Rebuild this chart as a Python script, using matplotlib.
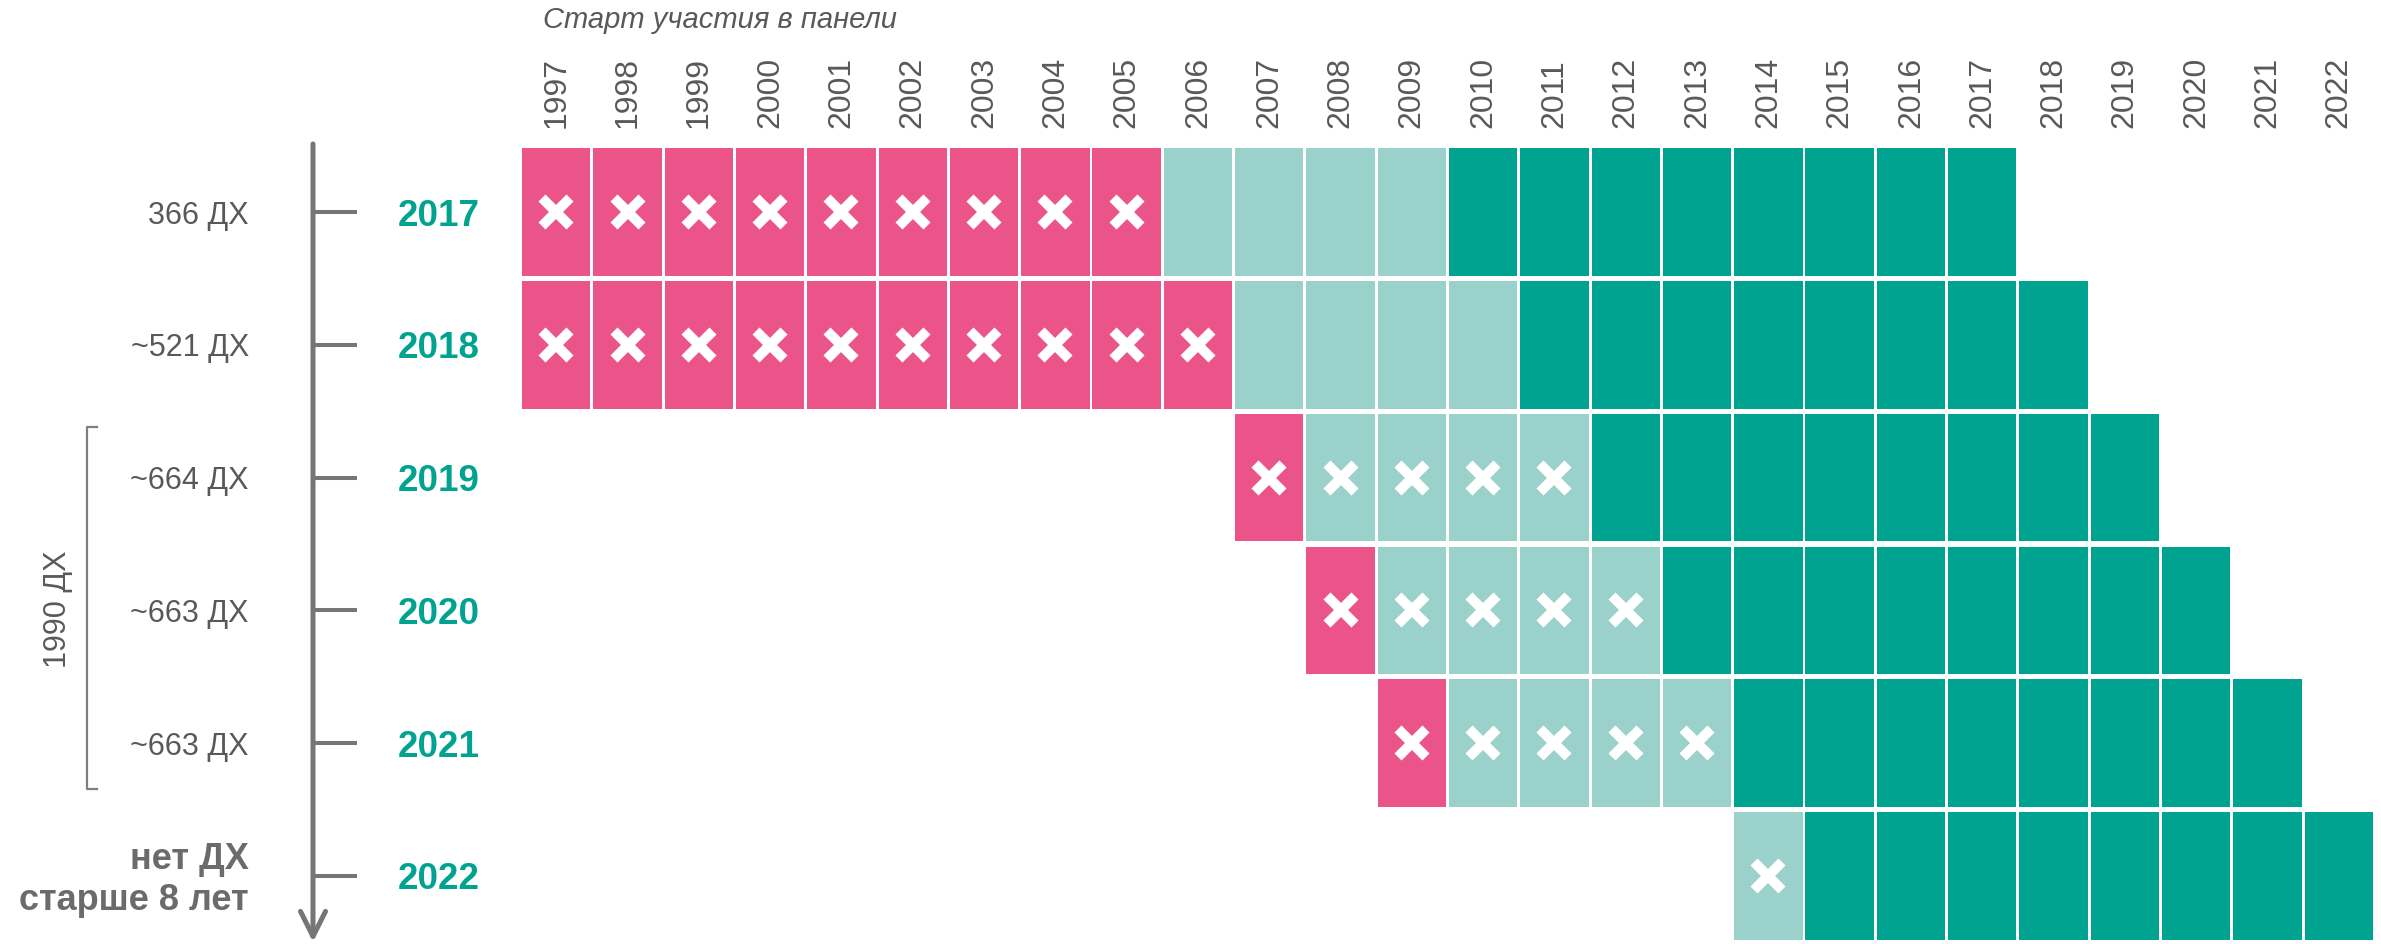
import matplotlib
matplotlib.use('Agg')
import matplotlib.pyplot as plt
from matplotlib.patches import FancyArrowPatch
from matplotlib.lines import Line2D
from matplotlib.transforms import blended_transform_factory

plt.rcParams['font.family'] = ['Liberation Sans', 'DejaVu Sans']

# данные
years = list(range(1997, 2023))
waves = [2017, 2018, 2019, 2020, 2021, 2022]
panel_start = [1997, 1997, 2007, 2008, 2009, 2014]
light_start = [2006, 2007, 2008, 2009, 2010, 2014]
teal_start = [2010, 2011, 2012, 2013, 2014, 2015]
cross_until = [2005, 2006, 2011, 2012, 2013, 2014]
count_labels = ['366 ДХ', '~521 ДХ', '~664 ДХ', '~663 ДХ', '~663 ДХ', 'нет ДХ\nстарше 8 лет']
group_label = '1990 ДХ'
title = 'Старт участия в панели'

PINK = '#EA5489'
LIGHT = '#9BD1CB'
TEAL = '#00A38F'
GRAY_TXT = '#595959'
GRAY_LINE = '#767676'

W, H = 2381, 944


def fx(px):
    return px / W


def fy(py):
    return 1 - py / H


fig = plt.figure(figsize=(W / 100, H / 100), dpi=100)
ax = fig.add_axes([fx(520.6), fy(942.4), 1853.8 / W, 796.8 / H])

for i, wave in enumerate(waves):
    xs, cols = [], []
    for y in range(panel_start[i], wave + 1):
        xs.append(y)
        if y < light_start[i]:
            cols.append(PINK)
        elif y < teal_start[i]:
            cols.append(LIGHT)
        else:
            cols.append(TEAL)
    ax.bar(xs, 0.96, width=0.96, bottom=i - 0.48, color=cols, linewidth=0)
    cx = [y for y in range(panel_start[i], cross_until[i] + 1)]
    ax.plot(cx, [i] * len(cx), linestyle='none', marker='x', color='white',
            ms=20, mew=7.2)

ax.set_xlim(1996.5, 2022.5)
ax.set_ylim(5.5, -0.5)
ax.set_xticks(years)
ax.set_xticklabels([str(y) for y in years])
ax.xaxis.tick_top()
ax.tick_params(axis='x', length=0, pad=12.5, labelsize=23, labelcolor=GRAY_TXT,
               labelrotation=90)
ax.set_yticks([])
for s in ax.spines.values():
    s.set_visible(False)

fig.text(fx(543), fy(28), title, fontsize=21, style='italic', color=GRAY_TXT,
         ha='left', va='baseline')

# ось волн слева
trans = blended_transform_factory(fig.transFigure, ax.transData)
arrow = FancyArrowPatch((fx(313), fy(144)), (fx(313), fy(942)),
                        transform=fig.transFigure,
                        arrowstyle='->, head_length=0.9, head_width=0.45',
                        mutation_scale=20, color=GRAY_LINE, lw=3.6,
                        shrinkA=0, shrinkB=0)
fig.add_artist(arrow)

for i, wave in enumerate(waves):
    ax.plot([fx(313), fx(357)], [i, i], transform=trans, color=GRAY_LINE,
            lw=2.9, solid_capstyle='butt', clip_on=False)
    ax.text(fx(398), i, str(wave), transform=trans, ha='left',
            va='center_baseline', fontsize=26.5, fontweight='bold', color=TEAL)
    if '\n' in count_labels[i]:
        ax.text(fx(249), i + 0.03, count_labels[i], transform=trans, ha='right',
                va='center', multialignment='right', fontsize=26,
                fontweight='bold', color='#6B6B6B', linespacing=1.2)
    else:
        ax.text(fx(249), i, count_labels[i], transform=trans, ha='right',
                va='center_baseline', fontsize=22, color=GRAY_TXT)

# скобка 1990 ДХ
fig.add_artist(Line2D([fx(97), fx(87), fx(87), fx(97)],
                      [fy(427), fy(427), fy(789), fy(789)],
                      transform=fig.transFigure, color='#7F7F7F', lw=1.6))
fig.text(fx(58), fy(609), group_label, rotation=90, ha='center', va='center',
         fontsize=22, color=GRAY_TXT)

fig.savefig('out.png', dpi=100)
